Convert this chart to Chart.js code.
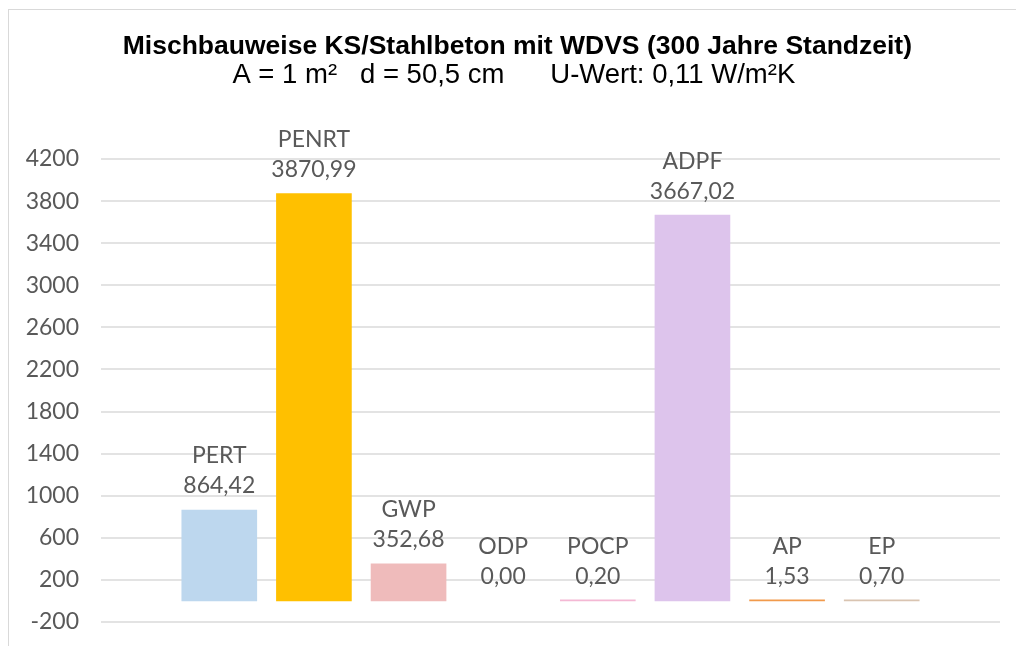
<!DOCTYPE html>
<html><head><meta charset="utf-8">
<script src="https://cdn.jsdelivr.net/npm/chart.js@4.4.1/dist/chart.umd.min.js"></script>
<style>
html,body{margin:0;padding:0;background:#fff;overflow:hidden;}
#wrap{position:relative;width:1016px;height:646px;}
#frame{position:absolute;left:8px;top:9px;width:1100px;height:700px;border-left:1px solid #d9d9d9;border-top:1px solid #d9d9d9;pointer-events:none;}
canvas{position:absolute;left:0;top:0;}
</style></head><body>
<div id="wrap"><canvas id="c" width="1016" height="646"></canvas><div id="frame"></div></div>
<script>
const categories = ['PERT','PENRT','GWP','ODP','POCP','ADPF','AP','EP'];
const positions = [1,2,3,4,5,6,7,8];
const values = [864.42, 3870.99, 352.68, 0.00, 0.20, 3667.02, 1.53, 0.70];
const barColors = ['#BDD7EE','#FFC000','#EFBBBB','#FFFFFF','#F4B8D4','#DDC4EC','#F19A4C','#D9C4B1'];
const yTickValues = [-200,200,600,1000,1400,1800,2200,2600,3000,3400,3800,4200];
const titleText = '  Mischbauweise KS/Stahlbeton mit WDVS (300 Jahre Standzeit)';
const subtitleText = ' A = 1 m\u00B2   d = 50,5 cm      U-Wert: 0,11 W/m\u00B2K';

const fmt = v => v.toFixed(2).replace('.', ',');

const labelPlugin = {
  id: 'barLabels',
  afterDatasetsDraw(chart) {
    const meta = chart.getDatasetMeta(0);
    const ys = chart.scales.y;
    const ctx = chart.ctx;
    ctx.save();
    ctx.font = '23px Lato';
    ctx.fillStyle = '#595959';
    ctx.textAlign = 'center';
    ctx.textBaseline = 'middle';
    meta.data.forEach((bar, i) => {
      const top = ys.getPixelForValue(Math.max(values[i], 0));
      ctx.fillText(fmt(values[i]), bar.x, top - 24);
      ctx.fillText(categories[i], bar.x, top - 54);
    });
    ctx.restore();
  }
};

new Chart(document.getElementById('c'), {
  type: 'bar',
  data: {
    datasets: [{
      data: positions.map((x, i) => ({x: x, y: values[i]})),
      backgroundColor: barColors,
      borderWidth: 0,
      barThickness: 75,
      minBarLength: 1
    }]
  },
  options: {
    responsive: false,
    animation: false,
    layout: {padding: {left: 20, right: 16, top: 0, bottom: 24}},
    plugins: {
      legend: {display: false},
      tooltip: {enabled: false},
      title: {
        display: true,
        text: titleText,
        color: '#000000',
        font: {family: 'Liberation Sans, Arial', size: 26.5, weight: 'bold', lineHeight: 1},
        padding: {top: 33, bottom: 2}
      },
      subtitle: {
        display: true,
        text: subtitleText,
        color: '#000000',
        font: {family: 'Liberation Sans, Arial', size: 27.5, weight: 'normal', lineHeight: 1},
        padding: {top: 0, bottom: 70}
      }
    },
    scales: {
      x: {
        type: 'linear',
        min: -0.25,
        max: 9.25,
        offset: false,
        display: false
      },
      y: {
        min: -200,
        max: 4200,
        afterBuildTicks: s => { s.ticks = yTickValues.map(v => ({value: v})); },
        afterFit: s => { s.width = 81; },
        border: {display: false},
        grid: {color: '#e3e3e3', lineWidth: 2, drawTicks: true, tickLength: 22, tickColor: 'rgba(0,0,0,0)'},
        ticks: {
          padding: 0,
          color: '#595959',
          font: {family: 'Lato', size: 23},
          callback: v => String(v)
        }
      }
    }
  },
  plugins: [labelPlugin]
});
</script>
</body></html>
